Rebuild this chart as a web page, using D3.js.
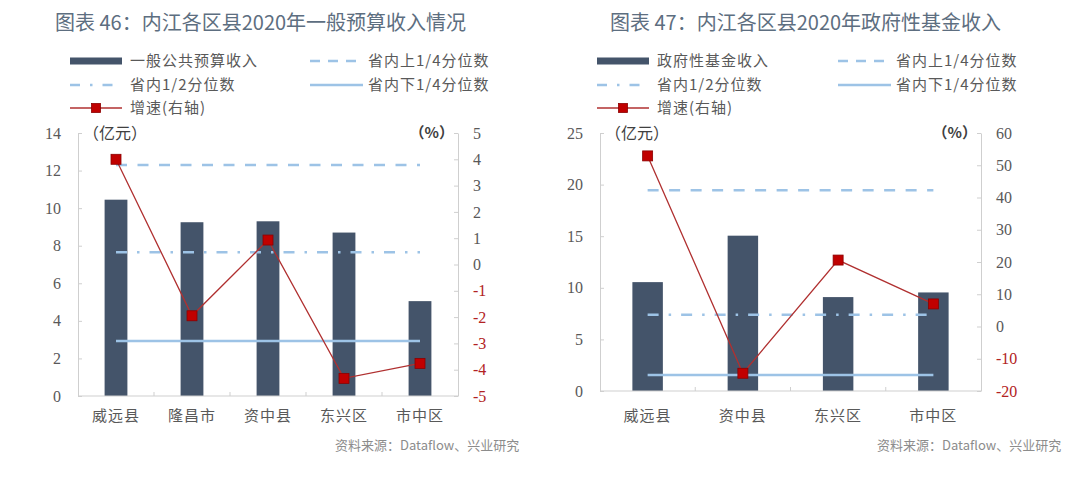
<!DOCTYPE html>
<html>
<head>
<meta charset="utf-8">
<script src="https://cdn.jsdelivr.net/npm/d3@7/dist/d3.min.js"></script>
<style>
html,body{margin:0;padding:0;background:#fff;}
svg{display:block;}
</style>
</head>
<body>
<svg id="chart" width="1080" height="479"></svg>
<script>
// ---------- Data: chart 46 ----------
const categoriesA = ["威远县", "隆昌市", "资中县", "东兴区", "市中区"];
const revenueA = [10.45, 9.25, 9.3, 8.7, 5.05];          // 亿元
const growthA = [4.0, -1.95, 0.93, -4.33, -3.76];        // %
const upperQA = 12.3, medianA = 7.65, lowerQA = 2.93;
const leftTicksA = [0, 2, 4, 6, 8, 10, 12, 14];
const rightTicksA = [-5, -4, -3, -2, -1, 0, 1, 2, 3, 4, 5];

// ---------- Data: chart 47 ----------
const categoriesB = ["威远县", "资中县", "东兴区", "市中区"];
const revenueB = [10.55, 15.05, 9.1, 9.55];
const growthB = [52.9, -14.5, 20.6, 7.0];
const upperQB = 19.45, medianB = 7.4, lowerQB = 1.55;
const leftTicksB = [0, 5, 10, 15, 20, 25];
const rightTicksB = [-20, -10, 0, 10, 20, 30, 40, 50, 60];

const titleA = "图表 46：内江各区县2020年一般预算收入情况";
const titleB = "图表 47：内江各区县2020年政府性基金收入";
const legendA = ["一般公共预算收入", "省内上1/4分位数", "省内1/2分位数", "省内下1/4分位数", "增速(右轴)"];
const legendB = ["政府性基金收入", "省内上1/4分位数", "省内1/2分位数", "省内下1/4分位数", "增速(右轴)"];
const source = "资料来源：Dataflow、兴业研究";

const svg = d3.select("#chart");
const SERIF = "'Liberation Serif','Noto Sans CJK SC',serif";
const SANS = "'Noto Sans CJK SC','Noto Sans',sans-serif";
const BAR = "#44546a", QCOL = "#9dc3e6", RED = "#c00000", LINE = "#b03030";
const AXIS = "#cfcfcf", TXT = "#595959";

function drawChart(o) {
  const g = svg.append("g");
  // title
  g.append("text").attr("x", o.titleX).attr("y", 30)
    .attr("font-family", SANS).attr("font-size", 20).attr("font-weight", 400)
    .attr("fill", "#5d6e80").text(o.title);

  // legend
  const lg = g.append("g").attr("font-family", SANS).attr("font-size", 15)
    .attr("fill", TXT).attr("letter-spacing", 1);
  const rows = [61, 85, 108];
  const c1 = o.legX1, c2 = o.legX2;
  lg.append("rect").attr("x", c1).attr("y", rows[0] - 3.5).attr("width", 52).attr("height", 7).attr("fill", BAR);
  lg.append("line").attr("x1", c2).attr("x2", c2 + 53).attr("y1", rows[0]).attr("y2", rows[0])
    .attr("stroke", QCOL).attr("stroke-width", 2.5).attr("stroke-dasharray", "10 8");
  lg.append("line").attr("x1", c1).attr("x2", c1 + 52).attr("y1", rows[1]).attr("y2", rows[1])
    .attr("stroke", QCOL).attr("stroke-width", 2.5).attr("stroke-dasharray", "10 10 2.5 10");
  lg.append("line").attr("x1", c2).attr("x2", c2 + 53).attr("y1", rows[1]).attr("y2", rows[1])
    .attr("stroke", QCOL).attr("stroke-width", 2.5);
  lg.append("line").attr("x1", c1).attr("x2", c1 + 52).attr("y1", rows[2]).attr("y2", rows[2])
    .attr("stroke", LINE).attr("stroke-width", 1.3);
  lg.append("rect").attr("x", c1 + 26 - 4.5).attr("y", rows[2] - 4.5).attr("width", 9).attr("height", 9)
    .attr("fill", RED).attr("stroke", "#8b0000").attr("stroke-width", 0.8);
  const legPos = [[c1 + 60, rows[0]], [c2 + 58, rows[0]], [c1 + 60, rows[1]], [c2 + 58, rows[1]], [c1 + 60, rows[2]]];
  o.legend.forEach((t, i) => {
    lg.append("text").attr("x", legPos[i][0]).attr("y", legPos[i][1]).attr("dy", "0.36em").text(t);
  });

  // scales
  const x = d3.scaleBand().domain(o.cats).range([o.left, o.right])
    .paddingInner(o.pad).paddingOuter(o.pad / 2);
  const y = d3.scaleLinear().domain([0, d3.max(o.lTicks)]).range([o.bottom, o.top]);
  const y2 = d3.scaleLinear().domain(d3.extent(o.rTicks)).range([o.bottom, o.top]);
  const cx = c => x(c) + x.bandwidth() / 2;

  // bars
  g.selectAll(null).data(o.cats).join("rect")
    .attr("x", d => x(d)).attr("width", x.bandwidth())
    .attr("y", (d, i) => y(o.vals[i])).attr("height", (d, i) => y(0) - y(o.vals[i]))
    .attr("fill", BAR);

  // quartile lines
  const x0 = cx(o.cats[0]), x1 = cx(o.cats[o.cats.length - 1]);
  g.append("line").attr("x1", x0).attr("x2", x1).attr("y1", y(o.uq)).attr("y2", y(o.uq))
    .attr("stroke", QCOL).attr("stroke-width", 2.5).attr("stroke-dasharray", "11 10.5");
  g.append("line").attr("x1", x0).attr("x2", x1).attr("y1", y(o.med)).attr("y2", y(o.med))
    .attr("stroke", QCOL).attr("stroke-width", 2.5).attr("stroke-dasharray", "11 10 2.5 10");
  g.append("line").attr("x1", x0).attr("x2", x1).attr("y1", y(o.lq)).attr("y2", y(o.lq))
    .attr("stroke", QCOL).attr("stroke-width", 2.5);

  // axes
  const fmt = d => String(d);
  const axL = g.append("g").attr("transform", `translate(${o.left},0)`)
    .call(d3.axisLeft(y).tickValues(o.lTicks).tickFormat(fmt).tickSizeInner(-4).tickSizeOuter(0).tickPadding(17));
  const axR = g.append("g").attr("transform", `translate(${o.right},0)`)
    .call(d3.axisRight(y2).tickValues(o.rTicks).tickFormat(fmt).tickSizeInner(-4).tickSizeOuter(0).tickPadding(15));
  [axL, axR].forEach(a => {
    a.select(".domain").attr("stroke", AXIS);
    a.selectAll(".tick line").attr("stroke", AXIS);
    a.selectAll(".tick text").attr("font-family", SERIF).attr("font-size", 16).attr("fill", TXT);
  });
  axR.selectAll(".tick text").attr("fill", d => d < 0 ? "#b22222" : TXT);

  // bottom axis line with boundary ticks
  g.append("line").attr("x1", o.left).attr("x2", o.right).attr("y1", o.bottom).attr("y2", o.bottom)
    .attr("stroke", AXIS);
  o.cats.slice(0, -1).forEach(c => {
    const bx = cx(c) + x.step() / 2;
    g.append("line").attr("x1", bx).attr("x2", bx).attr("y1", o.bottom).attr("y2", o.bottom - 4).attr("stroke", AXIS);
  });
  g.selectAll(null).data(o.cats).join("text")
    .attr("x", d => cx(d)).attr("y", 421).attr("text-anchor", "middle")
    .attr("font-family", SANS).attr("font-size", 15).attr("letter-spacing", 1).attr("fill", TXT)
    .text(d => d);

  // unit labels
  g.append("text").attr("x", o.left + 5).attr("y", o.top).attr("dy", "0.36em")
    .attr("font-family", SANS).attr("font-size", 16).attr("fill", "#404040").text("（亿元）");
  g.append("text").attr("x", o.right - 4).attr("y", o.top).attr("dy", "0.36em").attr("text-anchor", "end")
    .attr("font-family", SANS).attr("font-size", 15).attr("font-weight", 700).attr("fill", "#404040").text("（%）");

  // growth line
  const line = d3.line().x((d, i) => cx(o.cats[i])).y(d => y2(d));
  g.append("path").datum(o.growth).attr("d", line).attr("fill", "none")
    .attr("stroke", LINE).attr("stroke-width", 1.3);
  g.selectAll(null).data(o.growth).join("rect")
    .attr("x", (d, i) => cx(o.cats[i]) - 5).attr("y", d => y2(d) - 5)
    .attr("width", 10).attr("height", 10).attr("fill", RED)
    .attr("stroke", "#8b0000").attr("stroke-width", 0.8);

  // source
  g.append("text").attr("x", o.srcX).attr("y", 445).attr("dy", "0.36em")
    .attr("font-family", SANS).attr("font-size", 13).attr("fill", "#8c8c8c").text(source);
}

drawChart({
  title: titleA, titleX: 55, legend: legendA, legX1: 70, legX2: 310,
  cats: categoriesA, vals: revenueA, growth: growthA,
  uq: upperQA, med: medianA, lq: lowerQA,
  lTicks: leftTicksA, rTicks: rightTicksA,
  left: 78, right: 458, top: 133, bottom: 396, pad: 0.7, srcX: 335
});
drawChart({
  title: titleB, titleX: 610, legend: legendB, legX1: 597, legX2: 838,
  cats: categoriesB, vals: revenueB, growth: growthB,
  uq: upperQB, med: medianB, lq: lowerQB,
  lTicks: leftTicksB, rTicks: rightTicksB,
  left: 600, right: 981, top: 133, bottom: 391, pad: 0.68, srcX: 877
});
</script>
</body>
</html>
